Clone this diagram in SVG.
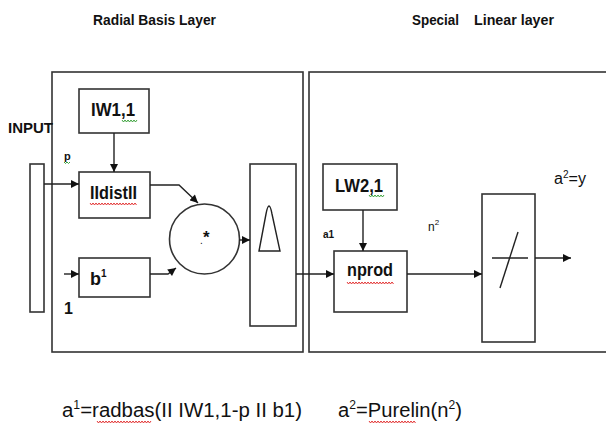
<svg xmlns="http://www.w3.org/2000/svg" width="606" height="425" viewBox="0 0 606 425">
<defs>
<marker id="ah" viewBox="0 0 10 10" refX="10" refY="5" markerWidth="9" markerHeight="8" markerUnits="userSpaceOnUse" orient="auto">
<path d="M0,0 L10,5 L0,10 Z" fill="#111"/>
</marker>
</defs>
<style>
.box{fill:#fff;stroke:#333;stroke-width:1.6}
.ln{fill:none;stroke:#222;stroke-width:1.4}
.arr{fill:none;stroke:#222;stroke-width:1.4;marker-end:url(#ah)}
.t{font-family:"Liberation Sans",Arial,sans-serif;fill:#111}
.b{font-weight:bold}
.red{fill:none;stroke:#e02020;stroke-width:0.9}
.grn{fill:none;stroke:#2a9a2a;stroke-width:0.9}
</style>
<rect width="606" height="425" fill="#fff"/>
<text class="t b" x="93" y="25" font-size="15" textLength="123" lengthAdjust="spacingAndGlyphs">Radial Basis  Layer</text>
<text class="t b" x="412" y="25" font-size="15" textLength="47" lengthAdjust="spacingAndGlyphs">Special</text>
<text class="t b" x="474" y="25" font-size="15" textLength="80" lengthAdjust="spacingAndGlyphs">Linear layer</text>

<g id="layer1"><rect class="box" x="52" y="72" width="251" height="280" fill="none"/></g>
<g id="layer2"><rect class="box" x="309" y="72" width="310" height="280" fill="none"/></g>

<g id="input">
<text class="t b" x="8" y="133" font-size="15" textLength="45" lengthAdjust="spacingAndGlyphs">INPUT</text>
<rect class="box" x="30" y="164" width="14" height="148"/>
<text class="t b" x="64" y="160" font-size="11">p</text>
<path class="grn" d="M64,162 l1.5,1.5 l1.5,-1.5 l1.5,1.5 l1.5,-1.5"/>
<text class="t b" x="64" y="314" font-size="16">1</text>
</g>

<g id="iw">
<rect class="box" x="79" y="89" width="70" height="44"/>
<text class="t b" x="91" y="116" font-size="18" textLength="44" lengthAdjust="spacingAndGlyphs">IW1,1</text>
<path class="grn" d="M122,120 l1.5,2 l1.5,-2 l1.5,2 l1.5,-2 l1.5,2 l1.5,-2 l1.5,2 l1.5,-2 l1.5,2 l1.5,-2"/>
</g>

<g id="dist">
<rect class="box" x="79" y="172" width="71" height="46"/>
<text class="t b" x="90" y="199" font-size="18" textLength="47" lengthAdjust="spacingAndGlyphs">IIdistII</text>
<path class="red" d="M90,203 l1.5,2 l1.5,-2 l1.5,2 l1.5,-2 l1.5,2 l1.5,-2 l1.5,2 l1.5,-2 l1.5,2 l1.5,-2 l1.5,2 l1.5,-2 l1.5,2 l1.5,-2 l1.5,2 l1.5,-2 l1.5,2 l1.5,-2 l1.5,2 l1.5,-2 l1.5,2 l1.5,-2 l1.5,2 l1.5,-2 l1.5,2 l1.5,-2 l1.5,2 l1.5,-2 l1.5,2 l1.5,-2 l1.5,2"/>
</g>

<g id="bias">
<rect class="box" x="79" y="258" width="71" height="39"/>
<text class="t b" x="90" y="285" font-size="18">b<tspan font-size="10" dy="-8">1</tspan></text>
</g>

<g id="mult">
<circle class="box" cx="204.5" cy="239" r="35"/>
<text class="t" x="200" y="244" font-size="10">.</text>
<text class="t b" x="203" y="243" font-size="17">*</text>
</g>

<g id="radbas">
<rect class="box" x="250" y="164" width="46" height="162"/>
<path class="ln" d="M259,251 L266,214 Q269,198 272,214 L280,251 Z"/>
</g>

<g id="lw">
<rect class="box" x="323" y="164" width="74" height="46"/>
<text class="t b" x="335" y="192" font-size="18" textLength="48" lengthAdjust="spacingAndGlyphs">LW2,1</text>
<path class="grn" d="M369,195 l1.5,2 l1.5,-2 l1.5,2 l1.5,-2 l1.5,2 l1.5,-2 l1.5,2 l1.5,-2 l1.5,2 l1.5,-2"/>
</g>

<g id="nprod">
<rect class="box" x="334" y="251" width="73" height="61"/>
<text class="t b" x="347" y="276" font-size="19" textLength="46" lengthAdjust="spacingAndGlyphs">nprod</text>
<path class="red" d="M347,282 l1.5,2 l1.5,-2 l1.5,2 l1.5,-2 l1.5,2 l1.5,-2 l1.5,2 l1.5,-2 l1.5,2 l1.5,-2 l1.5,2 l1.5,-2 l1.5,2 l1.5,-2 l1.5,2 l1.5,-2 l1.5,2 l1.5,-2 l1.5,2 l1.5,-2 l1.5,2 l1.5,-2 l1.5,2 l1.5,-2 l1.5,2 l1.5,-2 l1.5,2 l1.5,-2 l1.5,2 l1.5,-2 l1.5,2"/>
</g>

<g id="purelin">
<rect class="box" x="482" y="194" width="53" height="148"/>
<line class="ln" x1="492" y1="258" x2="528" y2="258"/>
<line class="ln" x1="518" y1="232" x2="500" y2="288"/>
</g>

<g id="labels">
<text class="t b" x="323" y="238" font-size="10">a1</text>
<text class="t" x="428" y="231" font-size="12">n<tspan font-size="8" dy="-6">2</tspan></text>
<text class="t" x="554" y="184" font-size="16" textLength="32" lengthAdjust="spacingAndGlyphs">a<tspan font-size="10" dy="-6">2</tspan><tspan dy="6">=y</tspan></text>
</g>

<g id="connectors">
<line class="arr" x1="114" y1="133" x2="114" y2="172"/>
<line class="arr" x1="44" y1="184" x2="79" y2="184"/>
<line class="arr" x1="64" y1="274" x2="79" y2="274"/>
<polyline class="arr" points="150,185 179,185 198,203"/>
<polyline class="arr" points="150,274 168,274 176,268"/>
<line class="arr" x1="239" y1="240" x2="250" y2="240"/>
<line class="arr" x1="296" y1="274" x2="334" y2="274"/>
<line class="arr" x1="363" y1="210" x2="363" y2="251"/>
<line class="arr" x1="407" y1="274" x2="482" y2="274"/>
<line class="arr" x1="535" y1="258" x2="571" y2="258"/>
</g>

<g id="formulas">
<text class="t" x="62" y="417" font-size="20" textLength="240" lengthAdjust="spacingAndGlyphs">a<tspan font-size="12" dy="-8">1</tspan><tspan dy="8">=radbas(II IW1,1-p II b1)</tspan></text>
<path class="red" d="M97,421 l1.5,2 l1.5,-2 l1.5,2 l1.5,-2 l1.5,2 l1.5,-2 l1.5,2 l1.5,-2 l1.5,2 l1.5,-2 l1.5,2 l1.5,-2 l1.5,2 l1.5,-2 l1.5,2 l1.5,-2 l1.5,2 l1.5,-2 l1.5,2 l1.5,-2 l1.5,2 l1.5,-2 l1.5,2 l1.5,-2 l1.5,2 l1.5,-2 l1.5,2 l1.5,-2 l1.5,2 l1.5,-2 l1.5,2 l1.5,-2 l1.5,2 l1.5,-2 l1.5,2 l1.5,-2"/>
<text class="t" x="338" y="417" font-size="20" textLength="124" lengthAdjust="spacingAndGlyphs">a<tspan font-size="12" dy="-8">2</tspan><tspan dy="8">=Purelin(n</tspan><tspan font-size="12" dy="-8">2</tspan><tspan dy="8">)</tspan></text>
<path class="red" d="M369,421 l1.5,2 l1.5,-2 l1.5,2 l1.5,-2 l1.5,2 l1.5,-2 l1.5,2 l1.5,-2 l1.5,2 l1.5,-2 l1.5,2 l1.5,-2 l1.5,2 l1.5,-2 l1.5,2 l1.5,-2 l1.5,2 l1.5,-2 l1.5,2 l1.5,-2 l1.5,2 l1.5,-2 l1.5,2 l1.5,-2 l1.5,2 l1.5,-2 l1.5,2 l1.5,-2 l1.5,2 l1.5,-2 l1.5,2"/>
</g>
</svg>
